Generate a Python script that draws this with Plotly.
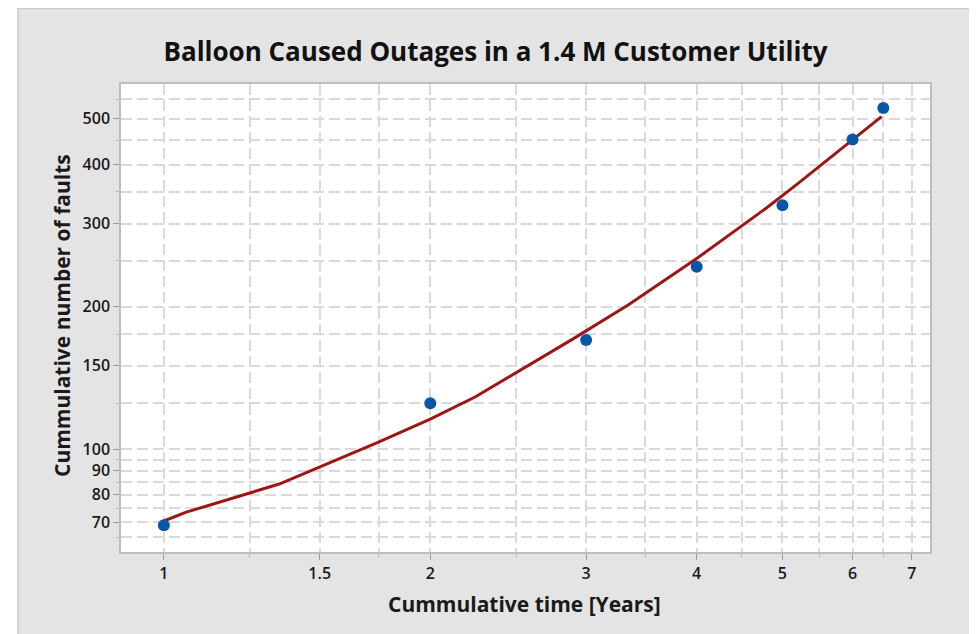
import plotly.graph_objects as go
import math

# ---- data ----
years = [1, 2, 3, 4, 5, 6, 6.5]
faults = [69, 125, 170, 243, 328, 452, 527]

fit_years = [1.0, 1.06, 1.35, 1.74, 2.0, 2.25, 2.9, 3.35, 4.0, 4.8, 5.2, 6.0, 6.47]
fit_faults = [70.4, 73.5, 84.3, 103, 115.7, 129, 171, 202, 253, 324, 364, 450, 505]

x_ticks = [1, 1.5, 2, 3, 4, 5, 6, 7]
x_tick_text = ["1", "1.5", "2", "3", "4", "5", "6", "7"]
x_minor = [1.25, 1.75, 2.5, 3.5, 4.5, 5.5, 6.5]
y_ticks = [70, 80, 90, 100, 150, 200, 300, 400, 500]
y_minor = [65, 75, 85, 95, 125, 175, 250, 350, 450, 550]

title_text = "Balloon Caused Outages in a 1.4 M Customer Utility"
x_title = "Cummulative time [Years]"
y_title = "Cummulative number of faults"

# ---- layout geometry (screen pixels; page body adds an 8px offset) ----
OFF = 8
W, H = 977 - OFF, 634 - OFF
L, R, T, B = 121 - OFF, 930 - OFF, 84 - OFF, 552 - OFF
FONT = "Open Sans"
GRID = "#dadada"
DASH = "11px,5px"


def px_x(p):
    return (p - OFF - L) / (R - L)


def px_y(p):
    return (B - (p - OFF)) / (B - T)


fig = go.Figure()
fig.add_trace(go.Scatter(
    x=fit_years, y=fit_faults, mode="lines",
    line=dict(color="#9e1515", width=3), hoverinfo="skip", showlegend=False))
fig.add_trace(go.Scatter(
    x=years, y=faults, mode="markers",
    marker=dict(color="#0a56a6", size=12), showlegend=False))

axis_common = dict(
    type="log", showline=True, mirror=True, linecolor="#bdbdbd", linewidth=1.5,
    ticks="outside", ticklen=6, tickcolor="#9a9a9a", tickwidth=1,
    showgrid=True, gridcolor=GRID, gridwidth=1.5, griddash=DASH,
    zeroline=False, automargin=False,
    tickfont=dict(family=FONT, size=16, color="#1a1a1a", weight=600),
)

fig.update_xaxes(
    **axis_common,
    range=[math.log10(0.8945), math.log10(7.34)],
    tickmode="array", tickvals=x_ticks, ticktext=x_tick_text,
    minor=dict(tickmode="array", tickvals=x_minor, showgrid=True,
               gridcolor=GRID, gridwidth=1.5, griddash=DASH,
               ticks="outside", ticklen=3, tickcolor="#b5b5b5"),
)
fig.update_yaxes(
    **axis_common,
    range=[1.782, 2.7725],
    tickmode="array", tickvals=y_ticks, ticktext=[str(v) for v in y_ticks],
    minor=dict(tickmode="array", tickvals=y_minor, showgrid=True,
               gridcolor=GRID, gridwidth=1.5, griddash=DASH,
               ticks="outside", ticklen=3, tickcolor="#b5b5b5"),
)

shapes = [
    # white margin left of the gray panel
    dict(type="rect", xref="paper", yref="paper", x0=px_x(0), x1=px_x(18),
         y0=px_y(660), y1=px_y(0), fillcolor="white", line=dict(width=0), layer="below"),
    # white margin right of the gray panel
    dict(type="rect", xref="paper", yref="paper", x0=px_x(972), x1=px_x(990),
         y0=px_y(660), y1=px_y(0), fillcolor="white", line=dict(width=0), layer="below"),
    # panel border
    dict(type="rect", xref="paper", yref="paper", x0=px_x(18), x1=px_x(972),
         y0=px_y(660), y1=px_y(8.5), fillcolor="rgba(0,0,0,0)",
         line=dict(color="#c9c9c9", width=1.5), layer="below"),
]

annotations = [
    dict(text=x_title, xref="paper", yref="paper", x=px_x(524), y=px_y(604),
         xanchor="center", yanchor="middle", showarrow=False,
         font=dict(family=FONT, size=21, color="#1a1a1a", weight="bold")),
    dict(text=y_title, xref="paper", yref="paper", x=px_x(62), y=px_y(316),
         xanchor="center", yanchor="middle", showarrow=False, textangle=-90,
         font=dict(family=FONT, size=21, color="#1a1a1a", weight="bold")),
]

fig.update_layout(
    width=W, height=H,
    margin=dict(l=L, r=W - R, t=T, b=H - B, autoexpand=False),
    paper_bgcolor="#e4e4e4", plot_bgcolor="white",
    title=dict(text=title_text, xref="container", yref="container",
               x=(495.5 - OFF) / W, y=1 - (52 - OFF) / H, xanchor="center", yanchor="middle",
               font=dict(family=FONT, size=26, color="#111111", weight="bold")),
    shapes=shapes, annotations=annotations, showlegend=False,
)

fig.write_html("out.html")
